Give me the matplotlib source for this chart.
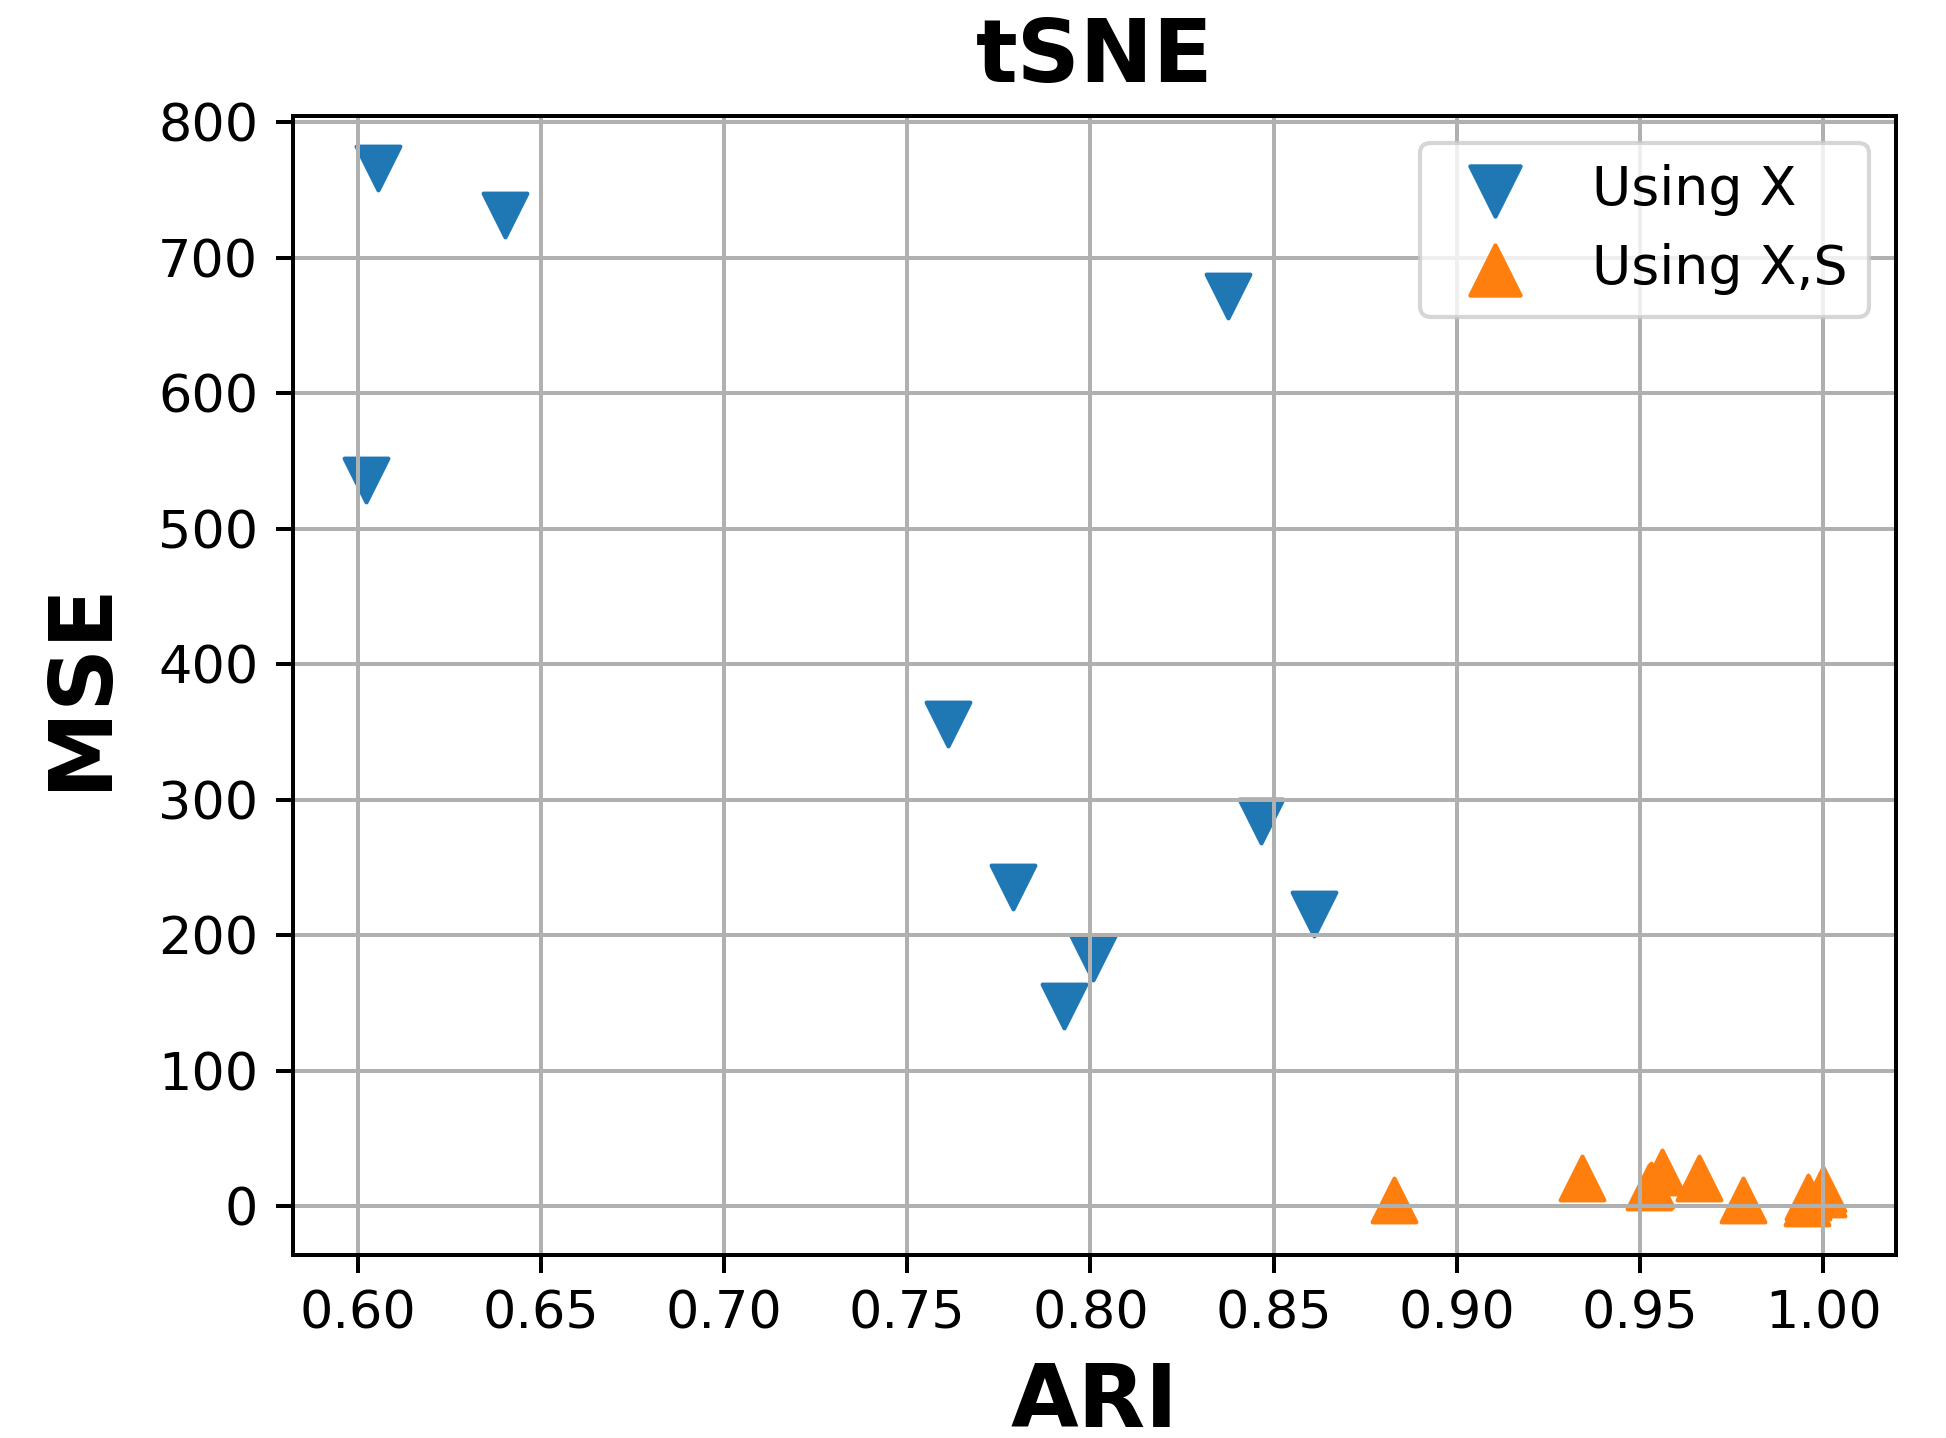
import numpy as np
from matplotlib import pyplot as plt

# ARI / MSE per run, tSNE embedding
ari_x = [0.6056, 0.6402, 0.6023, 0.7612, 0.7788, 0.8008, 0.7928, 0.8466, 0.8611, 0.8375]
mse_x = [766.5, 731.3, 535.9, 355.6, 235.7, 183.3, 148.2, 284.0, 215.6, 671.9]

ari_xs = [0.8829, 0.9342, 0.9524, 0.9529, 0.9561, 0.9660, 0.9782, 0.9956, 0.9958, 1.0000, 1.0000]
mse_xs = [4.6, 21.3, 14.5, 16.0, 25.5, 21.3, 4.6, 2.4, 7.0, 12.5, 9.0]

fs = 12.6
lw = 0.96

fig = plt.figure(figsize=(1946 / 300, 1438 / 300), dpi=300)
ax = fig.add_axes([0.1507, 0.1273, 0.8236, 0.7922])

ax.scatter(ari_x, mse_x, marker='v', s=110, label='Using X')
ax.scatter(ari_xs, mse_xs, marker='^', s=110, label='Using X,S')

ax.set_xticks(np.arange(0.60, 1.001, 0.05))
ax.set_yticks(np.arange(0, 801, 100))
ax.tick_params(labelsize=fs, width=lw, length=4.2, pad=4.2)
for sp in ax.spines.values():
    sp.set_linewidth(lw)
ax.grid(linewidth=lw)

plt.title('tSNE', fontsize=21, fontweight='bold', pad=8)
plt.xlabel('ARI', fontsize=21, fontweight='bold', labelpad=5)
plt.ylabel('MSE', fontsize=21, fontweight='bold', labelpad=8.5)
plt.legend(loc='upper right', fontsize=12.9, markerscale=1.15)

plt.savefig('out.png', dpi=300)
